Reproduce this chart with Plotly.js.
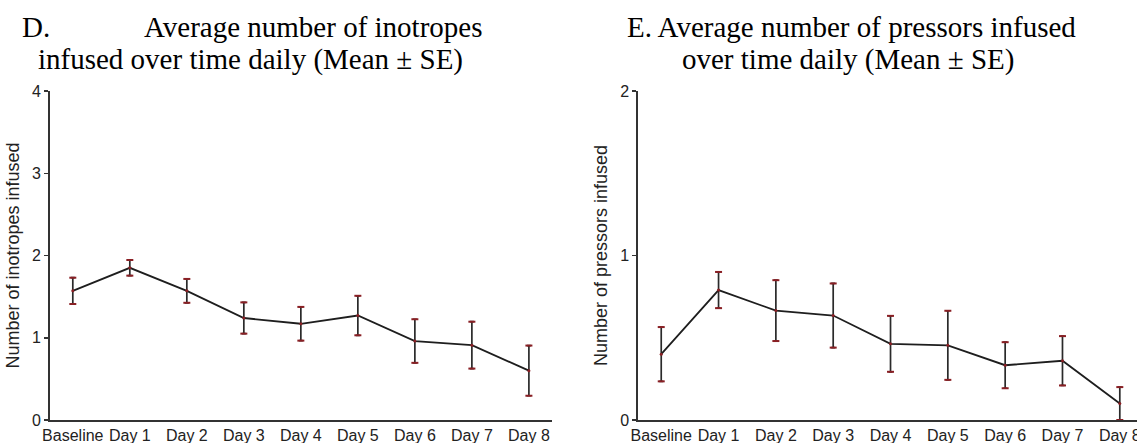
<!DOCTYPE html>
<html>
<head>
<meta charset="utf-8">
<script src="https://cdn.plot.ly/plotly-3.0.1.min.js"></script>
<style>html,body{margin:0;padding:0;background:#fff;}#chart{width:1137px;height:443px;}</style>
</head>
<body>
<div id="chart"></div>
<script>
const categories = ["Baseline","Day 1","Day 2","Day 3","Day 4","Day 5","Day 6","Day 7","Day 8"];
const inotropeMean = [1.57, 1.85, 1.57, 1.24, 1.17, 1.27, 0.96, 0.91, 0.60];
const inotropeSE   = [0.16, 0.095, 0.145, 0.19, 0.205, 0.24, 0.265, 0.285, 0.305];
const pressorMean  = [0.40, 0.79, 0.665, 0.635, 0.463, 0.454, 0.333, 0.36, 0.10];
const pressorSE    = [0.165, 0.11, 0.185, 0.195, 0.17, 0.21, 0.14, 0.15, 0.10];
const yTicksLeft = [0, 1, 2, 3, 4];
const yTicksRight = [0, 1, 2];

const W = 1137, H = 443;
const idx = categories.map((c, i) => i);
const lineColor = '#1e1e1e';
const capColor = '#8a1f24';

function seriesTraces(mean, se, xa, ya) {
  return [
    {
      x: idx, y: mean, xaxis: xa, yaxis: ya, type: 'scatter', mode: 'lines+markers',
      line: {color: lineColor, width: 1.8},
      marker: {color: capColor, size: 3},
      error_y: {type: 'data', array: se, visible: true, color: '#2a2a2a', thickness: 1.7, width: 2},
      hoverinfo: 'skip', showlegend: false, cliponaxis: false
    },
    {
      x: idx.concat(idx), y: mean.map((m, i) => m + se[i]).concat(mean.map((m, i) => Math.max(0, m - se[i]))),
      xaxis: xa, yaxis: ya, type: 'scatter', mode: 'markers',
      marker: {symbol: 'line-ew-open', color: capColor, size: 5, line: {color: capColor, width: 2}},
      hoverinfo: 'skip', showlegend: false, cliponaxis: false
    }
  ];
}

const data = seriesTraces(inotropeMean, inotropeSE, 'x', 'y')
  .concat(seriesTraces(pressorMean, pressorSE, 'x2', 'y2'));

const tickFont = {family: 'Liberation Sans, Arial, sans-serif', size: 16, color: '#222'};
const titleFont = {family: 'Liberation Serif, Times New Roman, serif', size: 29, color: '#000'};

function xAxis(domain, range) {
  return {
    domain: domain, range: range, tickmode: 'array', tickvals: idx, ticktext: categories,
    showgrid: false, zeroline: false, showline: true, linecolor: '#333', linewidth: 2,
    ticks: '', tickfont: tickFont, ticklen: 0, fixedrange: true, ticklabeloverflow: 'allow'
  };
}
function yAxis(domain, range, tv, titleText, anchor) {
  return {
    domain: domain, range: range, tickmode: 'array', tickvals: tv, ticktext: tv.map(String),
    showgrid: false, zeroline: false, showline: true, linecolor: '#333', linewidth: 2,
    ticks: 'outside', ticklen: 4, tickwidth: 1.5, tickcolor: '#333', tickfont: tickFont,
    anchor: anchor, title: {text: titleText, font: {family: 'Liberation Sans, Arial, sans-serif', size: 18, color: '#222'}, standoff: 8},
    fixedrange: true
  };
}

const layout = {
  width: W, height: H,
  margin: {l: 0, r: 0, t: 0, b: 0},
  paper_bgcolor: '#fff', plot_bgcolor: '#fff',
  xaxis: Object.assign(xAxis([50 / W, 551.7 / W], [-0.4, 8.4]), {anchor: 'y'}),
  yaxis: yAxis([1 - 420 / H, 1 - 91 / H], [0, 4], yTicksLeft, 'Number of inotropes infused', 'x'),
  xaxis2: Object.assign(xAxis([638.3 / W, 1], [-0.4, 8.3]), {anchor: 'y2'}),
  yaxis2: yAxis([1 - 420 / H, 1 - 91 / H], [0, 2], yTicksRight, 'Number of pressors infused', 'x2'),
  annotations: [
    {text: 'D.', xref: 'paper', yref: 'paper', x: 20 / W, y: 1 - 27 / H, xanchor: 'left', yanchor: 'middle', showarrow: false, font: titleFont},
    {text: 'Average number of inotropes', xref: 'paper', yref: 'paper', x: 484 / W, y: 1 - 27 / H, xanchor: 'right', yanchor: 'middle', showarrow: false, font: titleFont},
    {text: 'infused over time daily (Mean \u00b1 SE)', xref: 'paper', yref: 'paper', x: 250 / W, y: 1 - 59 / H, xanchor: 'center', yanchor: 'middle', showarrow: false, font: titleFont},
    {text: 'E. Average number of pressors infused', xref: 'paper', yref: 'paper', x: 851 / W, y: 1 - 27 / H, xanchor: 'center', yanchor: 'middle', showarrow: false, font: titleFont},
    {text: 'over time daily (Mean \u00b1 SE)', xref: 'paper', yref: 'paper', x: 848 / W, y: 1 - 59 / H, xanchor: 'center', yanchor: 'middle', showarrow: false, font: titleFont}
  ]
};

Plotly.newPlot('chart', data, layout, {displayModeBar: false, staticPlot: true});
</script>
</body>
</html>
